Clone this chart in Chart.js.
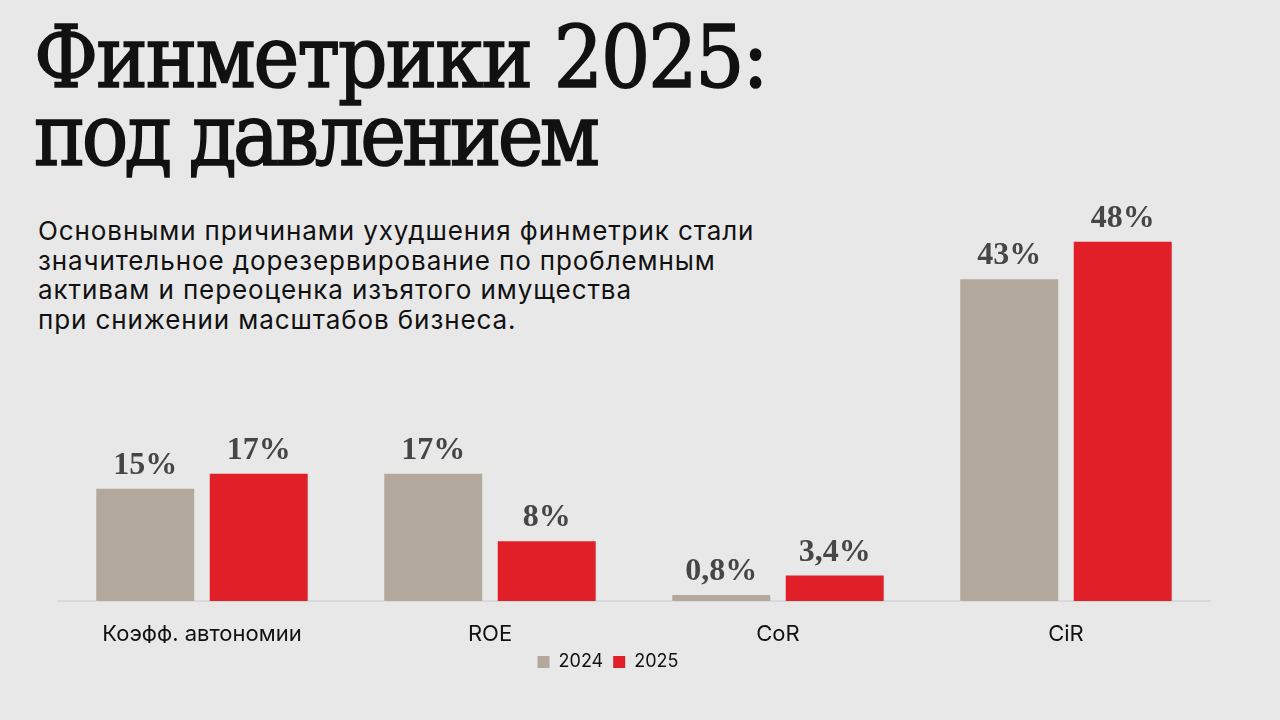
<!DOCTYPE html>
<html>
<head>
<meta charset="utf-8">
<script src="https://cdn.jsdelivr.net/npm/chart.js@4"></script>
<style>
  html, body { margin: 0; padding: 0; background: #e8e8e8; }
  body { width: 1280px; height: 720px; position: relative; overflow: hidden; }
  #title {
    position: absolute; left: 34px; top: 18px; margin: 0;
    font-family: "DejaVu Serif Condensed", "DejaVu Serif", serif; font-stretch: condensed;
    font-weight: 400; -webkit-text-stroke: 1.6px #111;
    font-size: 86px; line-height: 78px; color: #111; letter-spacing: -2px;
  }
  #title span { letter-spacing: -3.8px; }
  #sub {
    position: absolute; left: 38px; top: 216px; margin: 0;
    font-family: Inter, "Noto Sans", sans-serif; font-size: 26px;
    line-height: 29.5px; color: #111; letter-spacing: 0.9px;
  }
  #chart { position: absolute; left: 0; top: 0; }
</style>
</head>
<body>
<h1 id="title">Финметрики 2025:<br><span>под давлением</span></h1>
<p id="sub">Основными причинами ухудшения финметрик стали<br>значительное дорезервирование по проблемным<br>активам и переоценка изъятого имущества<br>при снижении масштабов бизнеса.</p>
<canvas id="chart" width="1280" height="720"></canvas>
<script>
    "use strict";

    const categories = ["Коэфф. автономии", "ROE", "CoR", "CiR"];
    const values2024 = [15, 17, 0.8, 43];
    const values2025 = [17, 8, 3.4, 48];
    const labels2024 = ["15%", "17%", "0,8%", "43%"];
    const labels2025 = ["17%", "8%", "3,4%", "48%"];

    // Value labels above each bar
    const valueLabels = {
        id: "valueLabels",
        afterDatasetsDraw(chart) {
            const ctx = chart.ctx;
            ctx.save();
            ctx.font = "bold 32px 'Liberation Serif', serif";
            ctx.fillStyle = "#464646";
            ctx.textAlign = "center";
            ctx.textBaseline = "alphabetic";
            chart.data.datasets.forEach((ds, i) => {
                chart.getDatasetMeta(i).data.forEach((bar, j) => {
                    ctx.fillText(ds.valueText[j], bar.x, bar.y - 15);
                });
            });
            ctx.restore();
        }
    };

    // legend sits a bit left of centre in the original
    const legendShift = {
        id: "legendShift",
        afterLayout(chart) {
            chart.legend.left -= 26;
            chart.legend.right -= 26;
        }
    };

    var ctx1 = document.getElementById("chart").getContext("2d");
    var myChart1 = new Chart(ctx1, {
        type: "bar",
        data: {
            labels: categories,
            datasets: [{
                label: "2024",
                data: values2024,
                valueText: labels2024,
                backgroundColor: "#b2a99c"
            },
            {
                label: "2025",
                data: values2025,
                valueText: labels2025,
                backgroundColor: "#e01f28"
            }]
        },
        options: {
            responsive: false,
            animation: false,
            categoryPercentage: 0.788,
            barPercentage: 0.863,
            layout: { padding: { left: 58, right: 70, top: 152, bottom: 39 } },
            scales: {
                x: {
                    grid: { display: false },
                    border: { color: "#d9d9d9", width: 2 },
                    ticks: {
                        color: "#111",
                        padding: 12,
                        font: { family: "Inter, 'Noto Sans', sans-serif", size: 22 }
                    },
                    afterFit(scale) { scale.height = 42; }
                },
                y: {
                    display: false,
                    min: 0,
                    max: 60
                }
            },
            plugins: {
                tooltip: { enabled: false },
                legend: {
                    position: "bottom",
                    labels: {
                        color: "#111",
                        boxWidth: 12,
                        boxHeight: 12,
                        padding: 10,
                        font: { family: "Inter, 'Noto Sans', sans-serif", size: 18 }
                    }
                }
            }
        },
        plugins: [valueLabels, legendShift]
    });
</script>
</body>
</html>
